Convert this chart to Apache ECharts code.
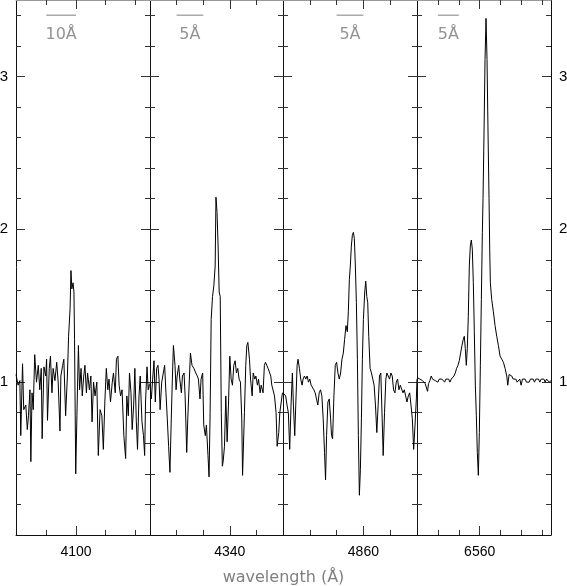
<!DOCTYPE html>
<html>
<head>
<meta charset="utf-8">
<script src="https://cdn.jsdelivr.net/npm/echarts@6/dist/echarts.min.js"></script>
<style>
  html, body { margin: 0; padding: 0; background: #fff; }
  #chart { width: 567px; height: 586px; }
</style>
</head>
<body>
<div id="chart"></div>
<script>
// spectra, one pair of arrays per panel
var wave4100 = [4079.8,4080.5,4081.1,4081.4,4082.0,4082.4,4083.1,4083.6,4084.0,4084.5,4084.8,4085.2,4085.6,4086.1,4086.7,4087.3,4087.8,4088.3,4088.6,4089.2,4089.8,4090.1,4090.4,4091.0,4091.4,4091.9,4092.3,4092.9,4093.5,4094.0,4094.6,4094.9,4095.5,4095.9,4096.5,4097.1,4097.5,4098.0,4098.3,4098.6,4099.0,4099.3,4099.5,4099.9,4100.3,4100.8,4101.2,4101.7,4102.1,4102.6,4103.0,4103.5,4103.9,4104.5,4105.0,4105.4,4105.9,4106.4,4107.0,4107.5,4108.1,4108.7,4109.2,4109.7,4110.2,4110.7,4111.1,4111.6,4112.2,4112.6,4113.2,4113.6,4114.1,4114.5,4115.0,4115.5,4116.1,4116.7,4117.1,4117.6,4118.0,4118.5,4118.9,4119.4,4119.8,4120.3,4120.7,4121.2,4121.6,4122.2,4122.7,4123.1,4123.4,4123.9,4124.3,4124.7];
var flux4100 = [1.05,0.98,1.01,0.65,1.12,0.82,0.85,0.69,0.78,0.95,0.48,0.93,0.82,1.18,1.00,1.11,0.95,1.09,0.63,1.10,1.04,1.15,0.75,1.09,1.17,0.93,1.09,1.01,1.13,1.00,0.68,1.04,1.11,1.15,0.78,1.04,1.30,1.48,1.73,1.61,1.65,1.59,1.28,0.40,0.78,1.24,0.95,1.09,0.91,1.04,1.11,0.93,1.06,0.95,1.04,0.74,1.00,0.91,1.00,0.52,0.82,0.78,0.56,0.87,1.09,0.95,1.02,0.87,1.00,1.06,0.93,1.15,1.17,0.98,0.91,0.95,0.65,0.50,0.91,0.78,1.06,0.93,0.69,0.85,1.09,0.74,0.56,0.91,1.04,0.74,0.65,0.52,0.87,1.10,0.95,0.99];

var wave4340 = [4325.0,4325.25,4325.5,4325.75,4326.0,4326.25,4326.5,4326.7,4326.9,4327.2,4327.5,4327.75,4328.0,4328.25,4328.5,4328.75,4329.0,4329.2,4329.4,4329.7,4329.9,4330.1,4330.4,4330.6,4330.9,4331.1,4331.4,4331.6,4331.9,4332.1,4332.4,4332.6,4332.9,4333.25,4333.6,4333.9,4334.1,4334.4,4334.6,4334.9,4335.1,4335.4,4335.6,4335.9,4336.1,4336.3,4336.5,4336.75,4337.0,4337.25,4337.4,4337.6,4337.8,4338.0,4338.2,4338.4,4338.6,4338.75,4339.0,4339.25,4339.5,4339.75,4340.0,4340.25,4340.5,4340.75,4341.0,4341.25,4341.5,4341.75,4342.0,4342.25,4342.4,4342.75,4343.0,4343.2,4343.4,4343.7,4343.9,4344.2,4344.4,4344.7,4344.9,4345.2,4345.4,4345.7,4345.9,4346.25,4346.5,4346.7,4346.9,4347.2,4347.4,4347.7,4347.9,4348.2,4348.4,4348.7,4348.9,4349.2,4349.4,4349.7,4349.9];
var flux4340 = [0.98,0.89,1.02,1.14,0.87,1.09,1.11,1.02,0.82,1.00,1.06,1.11,0.93,0.76,0.58,0.41,0.76,1.02,1.24,1.11,0.95,1.04,1.11,1.02,0.93,1.04,1.06,0.91,0.54,0.76,1.02,1.19,1.11,1.09,1.06,1.04,1.02,0.89,1.02,1.06,0.72,0.65,0.72,0.52,0.38,0.80,1.41,1.56,1.63,1.76,2.21,2.11,1.89,1.59,1.56,0.80,0.45,0.48,0.58,0.91,0.61,0.85,1.17,1.02,0.98,1.11,1.14,1.06,1.09,1.02,1.00,0.76,0.39,0.80,1.11,1.24,1.26,1.15,1.02,0.91,1.06,1.02,1.04,0.98,1.02,0.93,0.98,0.93,1.11,1.13,1.14,1.09,1.09,1.04,0.98,0.98,0.91,0.80,0.58,0.67,0.80,0.80,0.93];

var wave4860 = [4845.0,4845.19,4845.5,4845.75,4846.0,4846.25,4846.5,4846.75,4846.94,4847.19,4847.38,4847.63,4847.81,4848.06,4848.31,4848.56,4848.75,4849.0,4849.25,4849.5,4849.75,4850.0,4850.25,4850.5,4850.75,4851.0,4851.25,4851.5,4851.75,4852.0,4852.25,4852.5,4852.75,4852.94,4853.13,4853.38,4853.63,4853.88,4854.06,4854.25,4854.5,4854.75,4855.0,4855.25,4855.5,4855.75,4856.0,4856.25,4856.5,4856.75,4857.0,4857.19,4857.38,4857.56,4857.75,4857.94,4858.13,4858.31,4858.5,4858.69,4858.88,4859.06,4859.25,4859.44,4859.63,4859.81,4860.0,4860.25,4860.44,4860.63,4860.81,4861.0,4861.25,4861.5,4861.75,4862.0,4862.25,4862.5,4862.75,4863.0,4863.25,4863.5,4863.69,4863.94,4864.19,4864.38,4864.63,4864.88,4865.13,4865.38,4865.63,4865.88,4866.13,4866.38,4866.63,4866.88,4867.13,4867.38,4867.63,4867.88,4868.13,4868.38,4868.63,4868.88,4869.13,4869.38,4869.63,4869.88,4870.0];
var flux4860 = [0.93,0.94,0.91,0.85,0.80,0.56,0.85,1.06,0.85,0.65,0.85,1.11,1.15,1.09,1.02,0.98,1.02,1.04,1.02,1.04,1.00,1.02,0.98,0.99,0.95,0.93,0.89,0.85,0.93,0.95,0.91,0.76,0.54,0.36,0.65,0.87,0.89,0.76,0.65,0.63,0.91,1.11,1.13,1.06,1.02,1.06,1.15,1.19,1.28,1.37,1.33,1.46,1.67,1.76,1.89,1.96,1.98,1.94,1.76,1.52,1.15,0.65,0.26,0.43,0.76,1.15,1.41,1.59,1.66,1.56,1.52,1.30,1.09,1.06,1.02,0.98,0.85,0.67,0.85,1.04,1.06,0.76,0.52,0.80,1.02,1.06,1.07,1.02,1.06,1.04,0.95,0.93,1.00,1.02,0.95,0.98,0.98,0.93,0.95,0.91,0.87,0.91,0.93,0.85,0.76,0.56,0.72,0.89,1.02];

var wave6560 = [6545.0,6545.36,6545.68,6546.0,6546.32,6546.64,6546.96,6547.28,6547.52,6547.76,6548.08,6548.4,6548.72,6549.04,6549.36,6549.68,6550.0,6550.32,6550.64,6550.96,6551.28,6551.6,6551.92,6552.24,6552.56,6552.88,6553.2,6553.52,6553.84,6554.16,6554.48,6554.8,6555.12,6555.44,6555.76,6556.08,6556.32,6556.56,6556.8,6557.04,6557.28,6557.52,6557.76,6558.0,6558.24,6558.48,6558.72,6558.96,6559.2,6559.44,6559.68,6559.92,6560.16,6560.4,6560.64,6560.8,6561.04,6561.28,6561.52,6561.76,6562.0,6562.24,6562.4,6562.56,6562.88,6563.28,6563.68,6564.08,6564.48,6564.88,6565.28,6565.68,6566.08,6566.48,6566.72,6567.04,6567.36,6567.68,6568.0,6568.32,6568.64,6568.96,6569.28,6569.6,6569.92,6570.24,6570.56,6570.88,6571.2,6571.52,6571.84,6572.16,6572.48,6572.8,6573.12,6573.44,6573.76,6574.08,6574.4,6574.72,6575.04,6575.36,6575.68,6576.0,6576.32,6576.64,6577.07];
var flux6560 = [1.03,1.04,1.02,1.02,1.01,1.02,0.99,0.98,0.94,0.99,1.01,1.04,1.02,1.03,1.01,1.02,1.00,1.02,1.01,1.02,1.01,1.00,1.02,1.01,1.02,1.00,1.02,1.03,1.04,1.06,1.09,1.11,1.14,1.19,1.24,1.28,1.30,1.22,1.11,1.22,1.43,1.76,1.89,1.93,1.87,1.65,1.33,0.98,0.78,0.54,0.39,0.67,1.11,1.54,1.98,2.20,2.63,3.11,3.38,3.11,2.63,2.20,1.87,1.65,1.54,1.46,1.37,1.30,1.24,1.17,1.15,1.13,1.09,1.04,0.98,1.05,1.05,1.04,1.02,1.01,1.02,1.00,1.01,1.02,0.98,1.02,1.01,1.02,1.00,1.01,1.00,1.02,1.01,1.02,1.00,1.02,1.01,1.02,1.00,1.02,1.01,1.02,1.00,1.02,1.01,1.00,1.01];

// axes
var panelRanges = [[4079.8, 4124.9], [4325, 4350], [4845, 4870], [6545, 6577.07]];
var majorX = [[4100], [4340], [4860], [6560]];
var minorX = [[4090, 4110, 4120], [4330, 4335, 4345], [4850, 4855, 4865], [6550, 6555, 6565, 6570, 6575]];
var yMajor = [1, 2, 3];
var yMinor = [0.2, 0.4, 0.6, 0.8, 1.2, 1.4, 1.6, 1.8, 2.2, 2.4, 2.6, 2.8, 3.2, 3.4];

// scale bars at the top of each panel
var scaleBars = [[4090, 4100], [4330, 4335], [4855, 4860], [6550, 6555]];
var scaleLabels = ['10Å', '5Å', '5Å', '5Å'];
var scaleBarLevel = 3.4;

var panels = [[wave4100, flux4100], [wave4340, flux4340], [wave4860, flux4860], [wave6560, flux6560]];
var gridLeft = [16, 150, 283, 417];
var gridWidth = [134, 133, 134, 134];

var chart = echarts.init(document.getElementById('chart'));

function zip(a, b) {
  var out = [];
  for (var k = 0; k < a.length; k++) out.push([a[k], b[k]]);
  return out;
}

function plain(v) {
  return String(v);
}

function xAxisDef(i, pos, ticks, len, line, label) {
  return {
    gridIndex: i, type: 'value', position: pos,
    min: panelRanges[i][0], max: panelRanges[i][1],
    splitLine: { show: false },
    axisLine: { show: line, onZero: false, lineStyle: { color: pos === 'top' ? '#999' : '#111', width: 1 } },
    axisTick: { show: true, inside: true, length: len, customValues: ticks, lineStyle: { color: '#333' } },
    axisLabel: label
      ? { show: true, customValues: ticks, formatter: plain, margin: 10, color: '#000', fontFamily: 'Liberation Sans', fontSize: 14 }
      : { show: false }
  };
}

function yAxisDef(i, pos, ticks, len, line, label) {
  return {
    gridIndex: i, type: 'value', position: pos,
    min: 0, max: 3.5,
    splitLine: { show: false },
    axisLine: { show: line, onZero: false, lineStyle: { color: '#111', width: 1 } },
    axisTick: { show: true, inside: true, length: len, customValues: ticks, lineStyle: { color: '#333' } },
    axisLabel: label
      ? { show: true, customValues: ticks, formatter: plain, margin: 8, color: '#000', fontFamily: 'Liberation Sans', fontSize: 15 }
      : { show: false }
  };
}

var grids = [], xAxes = [], yAxes = [], series = [];
for (var i = 0; i < 4; i++) {
  grids.push({
    left: gridLeft[i], width: gridWidth[i], top: 0, height: 535,
    containLabel: false, outerBoundsMode: 'none'
  });

  xAxes.push(xAxisDef(i, 'bottom', minorX[i], 5, true, false));
  xAxes.push(xAxisDef(i, 'bottom', majorX[i], 9, false, true));
  xAxes.push(xAxisDef(i, 'top', minorX[i], 5, true, false));
  xAxes.push(xAxisDef(i, 'top', majorX[i], 9, false, false));

  yAxes.push(yAxisDef(i, 'left', yMinor, 5, true, false));
  yAxes.push(yAxisDef(i, 'left', yMajor, 9, false, i === 0));
  yAxes.push(yAxisDef(i, 'right', yMinor, 5, true, false));
  yAxes.push(yAxisDef(i, 'right', yMajor, 9, false, i === 3));

  series.push({
    type: 'line', xAxisIndex: i * 4, yAxisIndex: i * 4,
    data: zip(panels[i][0], panels[i][1]),
    showSymbol: false, symbol: 'none',
    lineStyle: { color: '#000', width: 1 },
    silent: true
  });

  series.push({
    type: 'line', xAxisIndex: i * 4, yAxisIndex: i * 4,
    data: [[scaleBars[i][0], scaleBarLevel], [scaleBars[i][1], scaleBarLevel]],
    symbol: 'none',
    lineStyle: { color: '#aaa', width: 1.5 },
    silent: true
  });

  series.push({
    type: 'scatter', xAxisIndex: i * 4, yAxisIndex: i * 4,
    data: [[(scaleBars[i][0] + scaleBars[i][1]) / 2, scaleBarLevel]],
    symbolSize: 0,
    label: {
      show: true, position: 'bottom', distance: 12,
      formatter: scaleLabels[i],
      color: '#777', fontFamily: 'DejaVu Sans', fontSize: 16
    },
    silent: true
  });
}

chart.setOption({
  animation: false,
  backgroundColor: '#fff',
  title: {
    text: 'wavelength (Å)',
    left: 'center', top: 565,
    textStyle: { color: '#808080', fontFamily: 'DejaVu Sans', fontSize: 16, fontWeight: 'normal' }
  },
  grid: grids,
  xAxis: xAxes,
  yAxis: yAxes,
  series: series
});
</script>
</body>
</html>
